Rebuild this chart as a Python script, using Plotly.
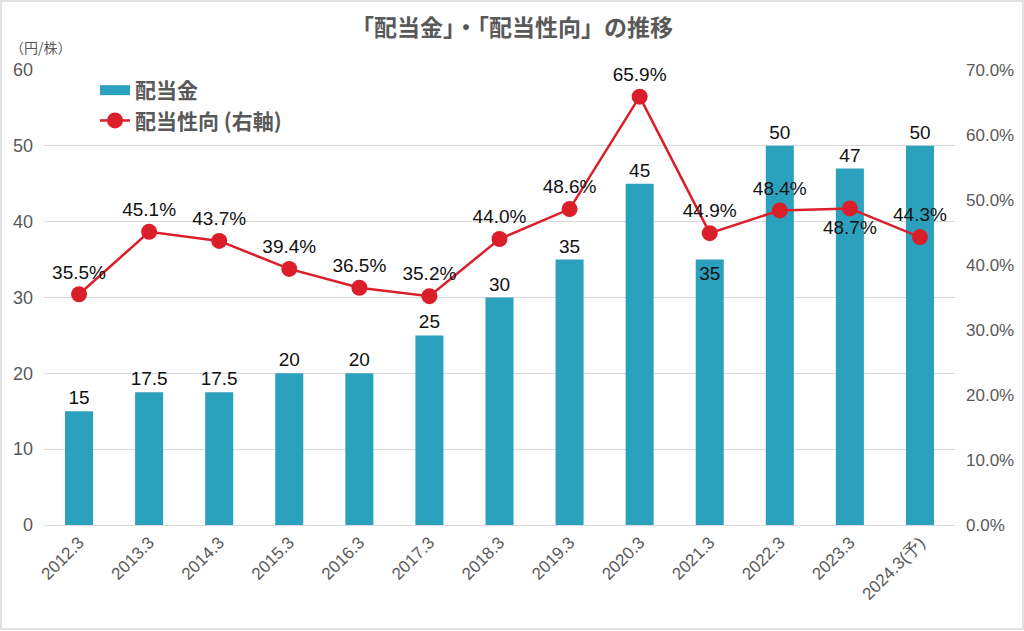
import plotly.graph_objects as go

categories = ["2012.3", "2013.3", "2014.3", "2015.3", "2016.3", "2017.3", "2018.3",
              "2019.3", "2020.3", "2021.3", "2022.3", "2023.3", "2024.3(予)"]
dividends = [15, 17.5, 17.5, 20, 20, 25, 30, 35, 45, 35, 50, 47, 50]
payout = [35.5, 45.1, 43.7, 39.4, 36.5, 35.2, 44.0, 48.6, 65.9, 44.9, 48.4, 48.7, 44.3]
div_text_pos = ["outside"] * 9 + ["inside"] + ["outside"] * 3
pay_text_pos = ["top center"] * 11 + ["bottom center", "top center"]

JP = "Noto Sans CJK JP, Liberation Sans, Arial, sans-serif"
NUM = "Liberation Sans, Arial, sans-serif"
BAR = "#2CA1BE"
RED = "#DA1F2B"
GRAY = "#595959"

fig = go.Figure()
fig.add_trace(go.Bar(
    x=categories, y=dividends, name="<b>配当金</b>", showlegend=False,
    marker=dict(color=BAR, line=dict(width=0)), width=0.4,
    text=[f"{v:g}" for v in dividends], textposition=div_text_pos,
    insidetextanchor="end", constraintext="none",
    textfont=dict(family=NUM, size=19, color="#111111"),
    cliponaxis=False,
))
# legend entry for the bars (wide swatch like the original)
fig.add_trace(go.Scatter(
    x=[None], y=[None], name="<b>配当金</b>", mode="lines",
    line=dict(color=BAR, width=14),
))
fig.add_trace(go.Scatter(
    x=categories, y=[p / 100 for p in payout], name="<b>配当性向 (右軸)</b>",
    yaxis="y2", mode="lines+markers+text",
    line=dict(color=RED, width=2.5),
    marker=dict(color=RED, size=16),
    text=[f"{p:.1f}%" for p in payout], textposition=pay_text_pos,
    textfont=dict(family=NUM, size=19, color="#111111"),
    cliponaxis=False,
))

fig.update_layout(
    width=1024, height=631,
    margin=dict(l=44, r=69, t=70, b=106, autoexpand=False),
    paper_bgcolor="white", plot_bgcolor="white",
    title=dict(text="<b>「配当金」・「配当性向」の推移</b>", x=0.5, xanchor="center",
               y=0.9556, yanchor="middle",
               font=dict(family=JP, size=23, color=GRAY)),
    showlegend=True,
    legend=dict(x=0.056, y=1.0, xanchor="left", yanchor="top",
                bgcolor="rgba(0,0,0,0)",
                font=dict(family=JP, size=21, color=GRAY), tracegroupgap=4,
                itemwidth=30),
    bargap=0.6,
    xaxis=dict(type="category", tickangle=-45, automargin=False,
               range=[-0.5, len(categories) - 0.5],
               tickfont=dict(family=NUM, size=17, color=GRAY),
               showgrid=False, showline=True, linecolor="#d9d9d9", linewidth=1,
               ticks=""),
    yaxis=dict(range=[0, 60], dtick=10, showgrid=True, gridcolor="#d9d9d9",
               zeroline=False, automargin=False,
               tickfont=dict(family=NUM, size=18, color=GRAY), ticks="",
               ticklabelstandoff=10),
    yaxis2=dict(range=[0, 0.7], dtick=0.1, tickformat=".1%", overlaying="y",
                side="right", showgrid=False, zeroline=False, automargin=False,
                tickfont=dict(family=NUM, size=17, color=GRAY), ticks="",
                ticklabelstandoff=10),
    annotations=[dict(text="（円/株）", xref="paper", yref="paper",
                      x=-0.04, y=1.05, xanchor="left", yanchor="middle",
                      showarrow=False,
                      font=dict(family=JP, size=14, color=GRAY))],
    shapes=[dict(type="rect", xref="paper", yref="paper",
                 x0=-43 / 911, x1=1 + 68 / 911, y0=-104 / 455, y1=1 + 69 / 455,
                 line=dict(color="#d9d9d9", width=1.5))],
)

fig.write_html("out.html", config={"displayModeBar": False},
               post_script="document.body.style.margin='0';")
